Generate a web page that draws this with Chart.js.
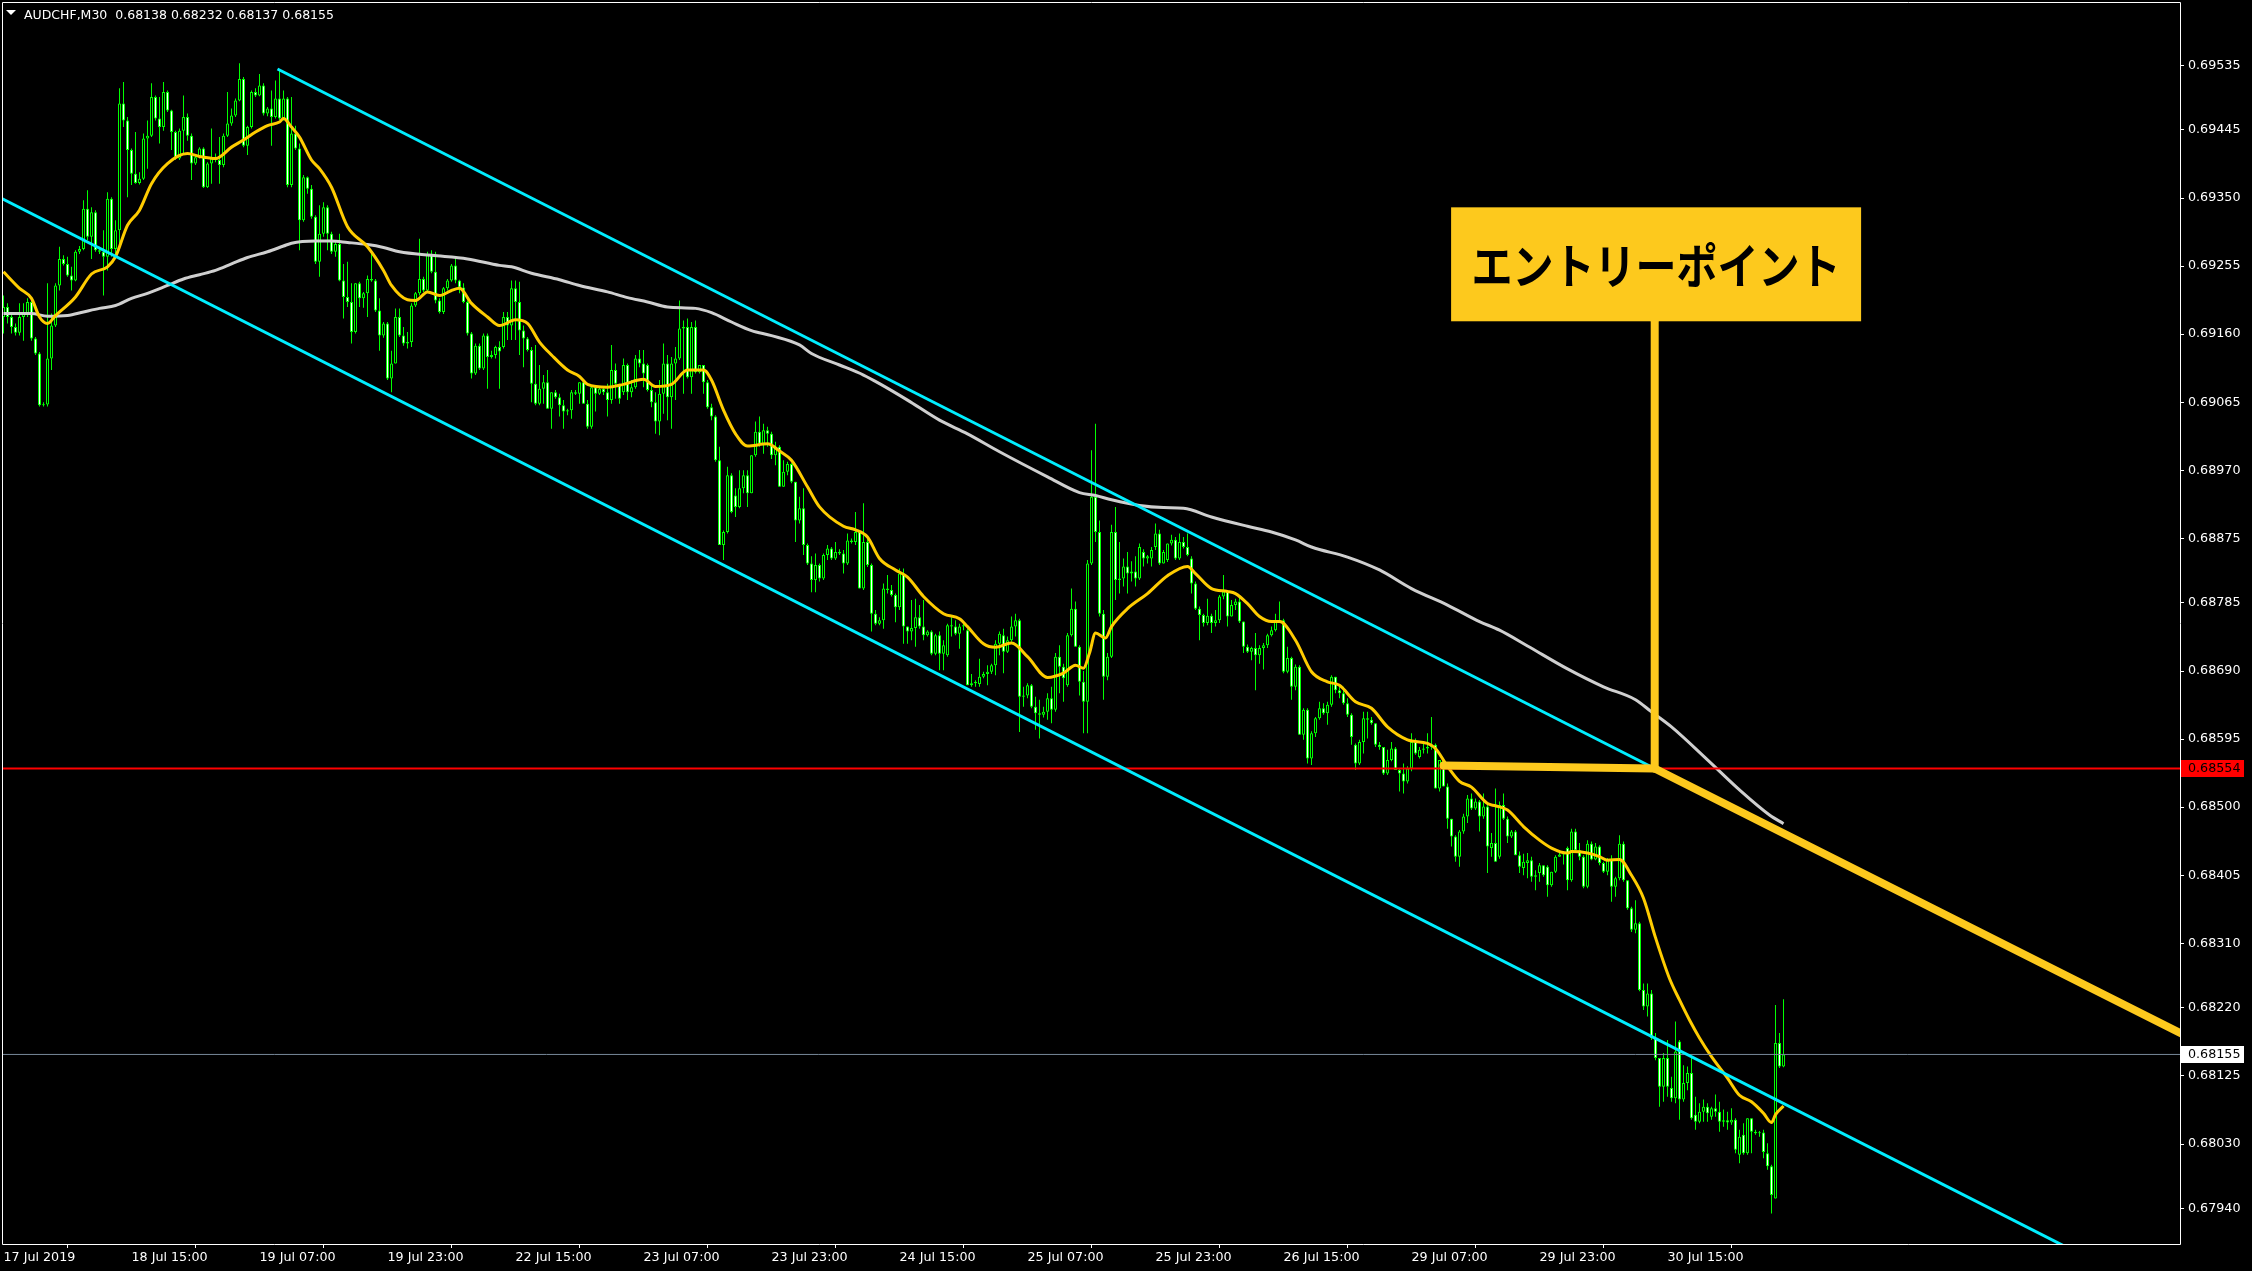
<!DOCTYPE html>
<html>
<head>
<meta charset="utf-8">
<title>AUDCHF,M30</title>
<script src="https://cdn.jsdelivr.net/npm/chart.js@4.4.1/dist/chart.umd.min.js"></script>
<style>
html,body{margin:0;padding:0;background:#000;overflow:hidden;}
#wrap{position:relative;width:2252px;height:1271px;}
canvas{display:block;}
</style>
</head>
<body>
<div id="wrap"><canvas id="chart" width="2252" height="1271"></canvas></div>
<script>
// ---------------- data ----------------
const symbolName = 'AUDCHF,M30';

const timeTickBars = [0, 32, 64, 96, 128, 160, 192, 224, 256, 288, 320, 352, 384, 416];
const timeTickLabels = ['17 Jul 2019', '18 Jul 15:00', '19 Jul 07:00', '19 Jul 23:00', '22 Jul 15:00',
  '23 Jul 07:00', '23 Jul 23:00', '24 Jul 15:00', '25 Jul 07:00', '25 Jul 23:00', '26 Jul 15:00',
  '29 Jul 07:00', '29 Jul 23:00', '30 Jul 15:00'];

const priceTicks = [0.69535, 0.69445, 0.69350, 0.69255, 0.69160, 0.69065, 0.68970, 0.68875, 0.68785,
  0.68690, 0.68595, 0.68500, 0.68405, 0.68310, 0.68220, 0.68125, 0.68030, 0.67940];

const opens = [
0.69184,0.69198,0.69184,0.69170,0.69162,0.69184,0.69189,0.69205,0.69154,0.69133,
0.69061,0.69062,0.69126,0.69172,0.69228,0.69265,0.69258,0.69242,0.69235,0.69275,
0.69279,0.69335,0.69296,0.69330,0.69277,0.69275,0.69268,0.69349,0.69279,0.69305,
0.69482,0.69458,0.69417,0.69384,0.69371,0.69377,0.69433,0.69437,0.69491,0.69461,
0.69449,0.69498,0.69472,0.69442,0.69405,0.69444,0.69463,0.69437,0.69398,0.69407,
0.69419,0.69365,0.69398,0.69405,0.69403,0.69396,0.69437,0.69454,0.69465,0.69486,
0.69516,0.69423,0.69449,0.69498,0.69493,0.69507,0.69468,0.69475,0.69463,0.69489,
0.69461,0.69489,0.69368,0.69440,0.69419,0.69319,0.69379,0.69363,0.69324,0.69261,
0.69300,0.69337,0.69300,0.69275,0.69286,0.69235,0.69212,0.69205,0.69163,0.69231,
0.69210,0.69217,0.69237,0.69235,0.69193,0.69158,0.69175,0.69098,0.69119,0.69184,
0.69158,0.69147,0.69149,0.69200,0.69217,0.69237,0.69221,0.69272,0.69247,0.69207,
0.69191,0.69224,0.69235,0.69256,0.69235,0.69225,0.69205,0.69161,0.69105,0.69144,
0.69112,0.69158,0.69128,0.69131,0.69142,0.69142,0.69184,0.69172,0.69224,0.69205,
0.69165,0.69154,0.69138,0.69091,0.69063,0.69084,0.69093,0.69056,0.69079,0.69072,
0.69061,0.69052,0.69054,0.69079,0.69077,0.69093,0.69063,0.69031,0.69086,0.69077,
0.69084,0.69079,0.69068,0.69110,0.69091,0.69079,0.69117,0.69079,0.69086,0.69126,
0.69119,0.69117,0.69082,0.69065,0.69038,0.69077,0.69119,0.69072,0.69119,0.69126,
0.69168,0.69170,0.69100,0.69170,0.69107,0.69117,0.69093,0.69058,0.69045,0.68984,
0.68866,0.68884,0.68963,0.68935,0.68919,0.68945,0.68963,0.68938,0.68991,0.69024,
0.69007,0.69026,0.69021,0.68991,0.69003,0.68947,0.68968,0.68979,0.68954,0.68900,
0.68917,0.68866,0.68840,0.68817,0.68838,0.68819,0.68852,0.68861,0.68847,0.68856,
0.68854,0.68840,0.68872,0.68870,0.68884,0.68805,0.68870,0.68838,0.68770,0.68756,
0.68761,0.68805,0.68803,0.68796,0.68779,0.68826,0.68752,0.68745,0.68750,0.68765,
0.68752,0.68740,0.68745,0.68714,0.68740,0.68714,0.68712,0.68754,0.68752,0.68742,
0.68752,0.68747,0.68670,0.68673,0.68672,0.68682,0.68686,0.68689,0.68698,0.68728,
0.68740,0.68717,0.68733,0.68752,0.68761,0.68654,0.68656,0.68670,0.68640,0.68631,
0.68629,0.68633,0.68652,0.68636,0.68710,0.68696,0.68670,0.68740,0.68777,0.68724,
0.68675,0.68647,0.68840,0.68933,0.68884,0.68770,0.68682,0.68710,0.68884,0.68817,
0.68819,0.68836,0.68826,0.68829,0.68819,0.68856,0.68847,0.68847,0.68863,0.68882,
0.68840,0.68845,0.68868,0.68873,0.68847,0.68870,0.68863,0.68847,0.68812,0.68777,
0.68768,0.68757,0.68767,0.68757,0.68761,0.68794,0.68801,0.68766,0.68782,0.68787,
0.68759,0.68724,0.68717,0.68722,0.68712,0.68722,0.68726,0.68740,0.68747,0.68759,
0.68761,0.68689,0.68708,0.68668,0.68696,0.68601,0.68636,0.68568,0.68603,0.68624,
0.68638,0.68631,0.68643,0.68682,0.68663,0.68659,0.68645,0.68629,0.68587,0.68561,
0.68591,0.68624,0.68622,0.68617,0.68587,0.68584,0.68547,0.68566,0.68582,0.68552,
0.68547,0.68536,0.68554,0.68591,0.68570,0.68580,0.68582,0.68584,0.68587,0.68526,
0.68566,0.68529,0.68484,0.68459,0.68431,0.68466,0.68487,0.68512,0.68498,0.68508,
0.68487,0.68501,0.68443,0.68450,0.68431,0.68503,0.68484,0.68459,0.68466,0.68433,
0.68415,0.68422,0.68426,0.68403,0.68408,0.68419,0.68417,0.68391,0.68410,0.68431,
0.68434,0.68443,0.68398,0.68466,0.68440,0.68431,0.68389,0.68449,0.68427,0.68445,
0.68422,0.68410,0.68427,0.68389,0.68401,0.68449,0.68398,0.68359,0.68329,0.68338,
0.68245,0.68222,0.68240,0.68178,0.68150,0.68110,0.68150,0.68108,0.68094,0.68173,
0.68092,0.68115,0.68129,0.68071,0.68061,0.68075,0.68082,0.68068,0.68080,0.68075,
0.68061,0.68063,0.68060,0.68064,0.68015,0.68043,0.68017,0.68066,0.68047,0.68045,
0.68046,0.68017,0.67999,0.67954,0.68171,0.68138];

const highs = [
0.69214,0.69203,0.69189,0.69175,0.69203,0.69203,0.69210,0.69207,0.69156,0.69135,
0.69065,0.69231,0.69189,0.69231,0.69282,0.69270,0.69268,0.69254,0.69277,0.69283,
0.69347,0.69361,0.69337,0.69333,0.69282,0.69305,0.69358,0.69351,0.69319,0.69503,
0.69512,0.69463,0.69419,0.69442,0.69386,0.69440,0.69458,0.69510,0.69493,0.69491,
0.69512,0.69500,0.69473,0.69444,0.69447,0.69493,0.69468,0.69440,0.69410,0.69421,
0.69421,0.69400,0.69447,0.69412,0.69435,0.69440,0.69498,0.69475,0.69489,0.69538,
0.69519,0.69451,0.69500,0.69503,0.69523,0.69510,0.69477,0.69500,0.69514,0.69528,
0.69500,0.69491,0.69491,0.69451,0.69426,0.69382,0.69380,0.69368,0.69326,0.69340,
0.69344,0.69340,0.69303,0.69289,0.69300,0.69258,0.69261,0.69231,0.69231,0.69233,
0.69219,0.69242,0.69277,0.69237,0.69210,0.69177,0.69177,0.69137,0.69196,0.69196,
0.69170,0.69163,0.69203,0.69219,0.69293,0.69240,0.69275,0.69277,0.69275,0.69210,
0.69226,0.69237,0.69258,0.69268,0.69236,0.69231,0.69207,0.69163,0.69147,0.69147,
0.69161,0.69161,0.69137,0.69144,0.69150,0.69191,0.69191,0.69235,0.69235,0.69233,
0.69172,0.69156,0.69142,0.69145,0.69117,0.69103,0.69110,0.69079,0.69082,0.69077,
0.69068,0.69056,0.69082,0.69082,0.69093,0.69096,0.69068,0.69089,0.69089,0.69086,
0.69086,0.69091,0.69145,0.69119,0.69091,0.69126,0.69119,0.69096,0.69131,0.69138,
0.69138,0.69119,0.69089,0.69079,0.69096,0.69147,0.69131,0.69128,0.69142,0.69207,
0.69179,0.69182,0.69177,0.69179,0.69117,0.69117,0.69096,0.69063,0.69047,0.69003,
0.68886,0.68975,0.68966,0.68945,0.68970,0.68970,0.68970,0.68991,0.69038,0.69045,
0.69035,0.69031,0.69024,0.69010,0.69005,0.68984,0.68982,0.68980,0.68954,0.68933,
0.68945,0.68868,0.68850,0.68854,0.68840,0.68854,0.68866,0.68863,0.68870,0.68860,
0.68859,0.68882,0.68875,0.68912,0.68886,0.68924,0.68877,0.68840,0.68775,0.68765,
0.68812,0.68824,0.68810,0.68798,0.68833,0.68833,0.68752,0.68789,0.68791,0.68782,
0.68789,0.68747,0.68747,0.68742,0.68745,0.68733,0.68756,0.68765,0.68761,0.68756,
0.68756,0.68749,0.68686,0.68677,0.68707,0.68689,0.68698,0.68700,0.68733,0.68745,
0.68749,0.68738,0.68766,0.68770,0.68763,0.68668,0.68673,0.68672,0.68654,0.68650,
0.68640,0.68659,0.68668,0.68715,0.68726,0.68700,0.68743,0.68805,0.68787,0.68726,
0.68690,0.68845,0.68998,0.69035,0.68900,0.68775,0.68715,0.68894,0.68919,0.68870,
0.68847,0.68856,0.68843,0.68850,0.68868,0.68860,0.68852,0.68863,0.68896,0.68887,
0.68859,0.68868,0.68880,0.68877,0.68882,0.68877,0.68882,0.68850,0.68815,0.68780,
0.68770,0.68791,0.68770,0.68775,0.68796,0.68824,0.68803,0.68789,0.68791,0.68794,
0.68759,0.68727,0.68724,0.68743,0.68726,0.68729,0.68742,0.68752,0.68770,0.68787,
0.68763,0.68724,0.68710,0.68699,0.68698,0.68638,0.68638,0.68606,0.68626,0.68647,
0.68645,0.68647,0.68684,0.68682,0.68668,0.68668,0.68652,0.68631,0.68589,0.68594,
0.68633,0.68633,0.68626,0.68617,0.68591,0.68584,0.68580,0.68591,0.68584,0.68554,
0.68561,0.68557,0.68603,0.68596,0.68584,0.68589,0.68603,0.68626,0.68589,0.68566,
0.68568,0.68533,0.68484,0.68461,0.68468,0.68491,0.68517,0.68519,0.68512,0.68510,
0.68519,0.68503,0.68464,0.68526,0.68508,0.68519,0.68487,0.68468,0.68468,0.68438,
0.68435,0.68436,0.68431,0.68412,0.68422,0.68419,0.68419,0.68410,0.68433,0.68438,
0.68438,0.68445,0.68470,0.68470,0.68450,0.68433,0.68454,0.68452,0.68450,0.68447,
0.68424,0.68429,0.68433,0.68403,0.68461,0.68452,0.68398,0.68361,0.68370,0.68340,
0.68254,0.68254,0.68245,0.68185,0.68150,0.68157,0.68175,0.68124,0.68201,0.68175,
0.68140,0.68138,0.68152,0.68096,0.68087,0.68092,0.68087,0.68082,0.68099,0.68089,
0.68078,0.68075,0.68080,0.68066,0.68050,0.68059,0.68066,0.68066,0.68050,0.68048,
0.68050,0.68031,0.68001,0.68224,0.68185,0.68232];

const lows = [
0.69161,0.69175,0.69161,0.69158,0.69158,0.69151,0.69184,0.69151,0.69131,0.69059,
0.69059,0.69059,0.69110,0.69170,0.69221,0.69256,0.69240,0.69221,0.69234,0.69272,
0.69277,0.69291,0.69265,0.69275,0.69272,0.69214,0.69249,0.69268,0.69268,0.69277,
0.69449,0.69351,0.69368,0.69370,0.69369,0.69375,0.69391,0.69435,0.69458,0.69426,
0.69444,0.69470,0.69417,0.69403,0.69403,0.69412,0.69430,0.69375,0.69396,0.69405,
0.69364,0.69364,0.69370,0.69400,0.69370,0.69393,0.69435,0.69451,0.69463,0.69485,
0.69421,0.69410,0.69447,0.69491,0.69492,0.69465,0.69464,0.69423,0.69461,0.69459,
0.69458,0.69365,0.69365,0.69417,0.69277,0.69317,0.69356,0.69321,0.69258,0.69240,
0.69296,0.69277,0.69272,0.69268,0.69234,0.69182,0.69198,0.69147,0.69161,0.69198,
0.69197,0.69184,0.69233,0.69191,0.69137,0.69155,0.69096,0.69079,0.69119,0.69156,
0.69144,0.69140,0.69142,0.69198,0.69214,0.69219,0.69220,0.69245,0.69203,0.69189,
0.69188,0.69221,0.69233,0.69231,0.69217,0.69203,0.69158,0.69098,0.69103,0.69110,
0.69110,0.69084,0.69126,0.69126,0.69084,0.69140,0.69152,0.69152,0.69152,0.69131,
0.69114,0.69136,0.69065,0.69061,0.69061,0.69063,0.69056,0.69028,0.69070,0.69045,
0.69028,0.69047,0.69042,0.69075,0.69063,0.69063,0.69028,0.69028,0.69052,0.69075,
0.69075,0.69045,0.69063,0.69070,0.69063,0.69075,0.69068,0.69072,0.69084,0.69114,
0.69086,0.69080,0.69058,0.69021,0.69019,0.69049,0.69040,0.69028,0.69068,0.69124,
0.69077,0.69098,0.69077,0.69105,0.69105,0.69077,0.69056,0.69040,0.68982,0.68866,
0.68845,0.68882,0.68910,0.68905,0.68917,0.68938,0.68919,0.68938,0.68989,0.69003,
0.68993,0.69003,0.68986,0.68977,0.68947,0.68947,0.68963,0.68952,0.68870,0.68896,
0.68852,0.68838,0.68800,0.68800,0.68815,0.68817,0.68845,0.68845,0.68845,0.68852,
0.68826,0.68838,0.68868,0.68866,0.68805,0.68803,0.68835,0.68745,0.68754,0.68754,
0.68749,0.68798,0.68794,0.68758,0.68775,0.68728,0.68728,0.68733,0.68724,0.68749,
0.68733,0.68738,0.68712,0.68712,0.68691,0.68691,0.68710,0.68738,0.68740,0.68721,
0.68747,0.68670,0.68668,0.68668,0.68668,0.68680,0.68670,0.68686,0.68684,0.68712,
0.68687,0.68715,0.68731,0.68738,0.68605,0.68640,0.68652,0.68638,0.68608,0.68596,
0.68625,0.68622,0.68617,0.68633,0.68659,0.68647,0.68668,0.68738,0.68724,0.68656,
0.68603,0.68603,0.68838,0.68870,0.68766,0.68650,0.68677,0.68708,0.68789,0.68798,
0.68808,0.68798,0.68815,0.68808,0.68817,0.68836,0.68840,0.68836,0.68859,0.68838,
0.68840,0.68842,0.68865,0.68845,0.68845,0.68861,0.68850,0.68798,0.68775,0.68733,
0.68752,0.68754,0.68743,0.68752,0.68757,0.68790,0.68752,0.68766,0.68775,0.68757,
0.68715,0.68715,0.68705,0.68663,0.68700,0.68692,0.68722,0.68738,0.68745,0.68757,
0.68687,0.68687,0.68650,0.68663,0.68601,0.68594,0.68561,0.68559,0.68598,0.68622,
0.68629,0.68615,0.68640,0.68659,0.68652,0.68643,0.68626,0.68587,0.68552,0.68559,
0.68575,0.68596,0.68615,0.68584,0.68580,0.68545,0.68545,0.68564,0.68552,0.68522,
0.68519,0.68533,0.68550,0.68573,0.68568,0.68575,0.68575,0.68580,0.68526,0.68522,
0.68529,0.68470,0.68445,0.68424,0.68417,0.68463,0.68478,0.68496,0.68496,0.68466,
0.68484,0.68408,0.68431,0.68424,0.68428,0.68482,0.68450,0.68457,0.68433,0.68408,
0.68405,0.68401,0.68396,0.68384,0.68396,0.68403,0.68375,0.68389,0.68408,0.68431,
0.68420,0.68384,0.68396,0.68436,0.68426,0.68387,0.68387,0.68426,0.68426,0.68419,
0.68408,0.68405,0.68368,0.68375,0.68398,0.68396,0.68357,0.68326,0.68324,0.68243,
0.68217,0.68208,0.68175,0.68147,0.68082,0.68089,0.68096,0.68089,0.68087,0.68064,
0.68089,0.68105,0.68064,0.68050,0.68059,0.68061,0.68061,0.68064,0.68068,0.68047,
0.68054,0.68050,0.68057,0.68017,0.68003,0.68015,0.68015,0.68017,0.68043,0.68040,
0.68010,0.67994,0.67933,0.67954,0.68136,0.68137];

const closes = [
0.69198,0.69184,0.69170,0.69162,0.69184,0.69189,0.69205,0.69154,0.69133,0.69061,
0.69062,0.69126,0.69172,0.69228,0.69265,0.69258,0.69242,0.69235,0.69275,0.69279,
0.69335,0.69296,0.69330,0.69277,0.69275,0.69268,0.69349,0.69279,0.69305,0.69482,
0.69458,0.69417,0.69384,0.69371,0.69377,0.69433,0.69437,0.69491,0.69461,0.69449,
0.69498,0.69472,0.69442,0.69405,0.69444,0.69463,0.69437,0.69398,0.69407,0.69419,
0.69365,0.69398,0.69405,0.69403,0.69396,0.69437,0.69454,0.69465,0.69486,0.69516,
0.69423,0.69449,0.69498,0.69493,0.69507,0.69468,0.69475,0.69463,0.69489,0.69461,
0.69489,0.69368,0.69440,0.69419,0.69319,0.69379,0.69363,0.69324,0.69261,0.69300,
0.69337,0.69300,0.69275,0.69286,0.69235,0.69212,0.69205,0.69163,0.69231,0.69210,
0.69217,0.69237,0.69235,0.69193,0.69158,0.69175,0.69098,0.69119,0.69184,0.69158,
0.69147,0.69149,0.69200,0.69217,0.69237,0.69221,0.69272,0.69247,0.69207,0.69191,
0.69224,0.69235,0.69256,0.69235,0.69225,0.69205,0.69161,0.69105,0.69144,0.69112,
0.69158,0.69128,0.69131,0.69142,0.69136,0.69184,0.69172,0.69224,0.69205,0.69165,
0.69154,0.69138,0.69091,0.69063,0.69084,0.69093,0.69056,0.69079,0.69072,0.69061,
0.69052,0.69054,0.69079,0.69077,0.69093,0.69063,0.69031,0.69086,0.69077,0.69084,
0.69079,0.69068,0.69110,0.69091,0.69070,0.69117,0.69079,0.69086,0.69126,0.69119,
0.69105,0.69082,0.69065,0.69038,0.69077,0.69119,0.69072,0.69119,0.69126,0.69168,
0.69170,0.69100,0.69170,0.69107,0.69117,0.69093,0.69058,0.69045,0.68984,0.68866,
0.68884,0.68963,0.68912,0.68919,0.68945,0.68963,0.68938,0.68991,0.69024,0.69007,
0.69026,0.69021,0.68991,0.69003,0.68947,0.68968,0.68979,0.68954,0.68900,0.68917,
0.68866,0.68840,0.68817,0.68838,0.68819,0.68852,0.68861,0.68847,0.68856,0.68854,
0.68840,0.68872,0.68870,0.68884,0.68805,0.68870,0.68838,0.68770,0.68756,0.68761,
0.68805,0.68803,0.68796,0.68779,0.68826,0.68752,0.68745,0.68750,0.68765,0.68752,
0.68740,0.68745,0.68714,0.68740,0.68714,0.68726,0.68754,0.68752,0.68742,0.68752,
0.68754,0.68670,0.68673,0.68675,0.68682,0.68686,0.68689,0.68698,0.68728,0.68742,
0.68717,0.68733,0.68752,0.68761,0.68654,0.68656,0.68670,0.68640,0.68631,0.68629,
0.68633,0.68652,0.68636,0.68710,0.68696,0.68680,0.68740,0.68777,0.68724,0.68675,
0.68647,0.68840,0.68933,0.68884,0.68770,0.68682,0.68710,0.68884,0.68817,0.68819,
0.68836,0.68826,0.68829,0.68819,0.68863,0.68847,0.68850,0.68859,0.68882,0.68840,
0.68856,0.68868,0.68873,0.68847,0.68870,0.68863,0.68852,0.68812,0.68777,0.68768,
0.68757,0.68767,0.68757,0.68761,0.68794,0.68801,0.68766,0.68782,0.68787,0.68759,
0.68724,0.68717,0.68722,0.68712,0.68722,0.68726,0.68740,0.68747,0.68759,0.68761,
0.68689,0.68708,0.68668,0.68696,0.68601,0.68636,0.68568,0.68603,0.68624,0.68638,
0.68631,0.68643,0.68682,0.68663,0.68659,0.68645,0.68629,0.68598,0.68561,0.68591,
0.68624,0.68622,0.68617,0.68587,0.68584,0.68547,0.68566,0.68582,0.68552,0.68547,
0.68536,0.68554,0.68591,0.68575,0.68580,0.68582,0.68584,0.68587,0.68526,0.68566,
0.68529,0.68484,0.68459,0.68431,0.68466,0.68487,0.68512,0.68498,0.68508,0.68487,
0.68501,0.68445,0.68450,0.68424,0.68503,0.68484,0.68459,0.68466,0.68433,0.68417,
0.68424,0.68426,0.68403,0.68405,0.68419,0.68405,0.68391,0.68410,0.68431,0.68434,
0.68436,0.68398,0.68466,0.68440,0.68431,0.68389,0.68449,0.68427,0.68445,0.68422,
0.68410,0.68427,0.68389,0.68401,0.68449,0.68398,0.68359,0.68329,0.68338,0.68245,
0.68222,0.68240,0.68178,0.68150,0.68110,0.68150,0.68110,0.68094,0.68159,0.68092,
0.68115,0.68129,0.68066,0.68061,0.68075,0.68082,0.68073,0.68080,0.68075,0.68061,
0.68063,0.68060,0.68064,0.68022,0.68040,0.68017,0.68066,0.68047,0.68045,0.68046,
0.68019,0.67999,0.67959,0.68171,0.68138,0.68155];

// moving averages (bar index -> value)
const fastMaBars = [0,4,7,9,11,13,18,22,26,28,31,34,37,41,46,49,53,57,60,63,66,69,70,72,74,77,79,82,86,91,95,97,101,103,106,109,112,114,117,121,124,128,131,134,137,141,144,146,151,155,160,163,167,171,175,177,180,183,186,191,194,197,201,204,210,213,216,219,223,226,230,235,239,241,245,248,252,256,261,265,268,270,271.5,273,275.5,277,281,286,291,296,298,302,306,308,311,314,317,319,323,327,331,334,338,342,346,351,356,358,361,364,367,371,373,376,380,384,387,391,392,396,399,401,404,407,410,413,416.5,419,421.5,424,427,431,434,437,440,442,443,445];
const fastMaValues = [0.69247,0.69224,0.69210,0.69184,0.69175,0.69186,0.69212,0.69244,0.69254,0.69268,0.69312,0.69333,0.69370,0.69398,0.69412,0.69408,0.69405,0.69421,0.69431,0.69442,0.69451,0.69456,0.69461,0.69449,0.69435,0.69403,0.69391,0.69365,0.69310,0.69282,0.69249,0.69228,0.69208,0.69207,0.69219,0.69214,0.69221,0.69224,0.69203,0.69184,0.69172,0.69180,0.69175,0.69149,0.69131,0.69110,0.69101,0.69090,0.69086,0.69090,0.69097,0.69087,0.69090,0.69110,0.69110,0.69096,0.69054,0.69021,0.69004,0.69007,0.68997,0.68984,0.68947,0.68919,0.68892,0.68887,0.68877,0.68847,0.68831,0.68821,0.68794,0.68770,0.68763,0.68752,0.68728,0.68723,0.68729,0.68710,0.68681,0.68687,0.68698,0.68694,0.68715,0.68743,0.68736,0.68752,0.68777,0.68798,0.68823,0.68836,0.68826,0.68805,0.68801,0.68798,0.68784,0.68766,0.68759,0.68759,0.68733,0.68689,0.68675,0.68670,0.68647,0.68638,0.68612,0.68594,0.68589,0.68582,0.68557,0.68536,0.68528,0.68505,0.68502,0.68496,0.68473,0.68454,0.68443,0.68436,0.68438,0.68436,0.68431,0.68426,0.68427,0.68405,0.68373,0.68318,0.68261,0.68231,0.68203,0.68178,0.68152,0.68122,0.68098,0.68089,0.68073,0.68060,0.68071,0.68083];

const slowMaBars = [0,7,11,16,20,24,28,32,36,41,45,49,53,57,61,66,70,72,78,82,86,91,95,99,107,116,124,127,132,139,144,151,156,161,166,173,177,182,187,192,199,202,209,215,219,226,234,241,249,261,269,273,277,284,290,295,302,311,317,323,327,336,344,352,361,369,374,381,391,400,408,412,417,426,434,441.5,445];
const slowMaValues = [0.69189,0.69189,0.69185,0.69186,0.69191,0.69196,0.69200,0.69210,0.69217,0.69228,0.69237,0.69243,0.69249,0.69258,0.69267,0.69275,0.69283,0.69287,0.69290,0.69290,0.69288,0.69285,0.69281,0.69275,0.69270,0.69265,0.69256,0.69254,0.69245,0.69236,0.69228,0.69219,0.69211,0.69205,0.69198,0.69196,0.69190,0.69177,0.69165,0.69158,0.69145,0.69133,0.69117,0.69103,0.69091,0.69068,0.69040,0.69021,0.68996,0.68961,0.68939,0.68935,0.68929,0.68921,0.68918,0.68917,0.68905,0.68892,0.68884,0.68873,0.68863,0.68849,0.68831,0.68805,0.68782,0.68759,0.68747,0.68725,0.68693,0.68668,0.68650,0.68633,0.68612,0.68566,0.68524,0.68489,0.68477];

// hand-drawn objects (bar index / price)
const channelUpperBars = [68.5, 412.8];
const channelUpperPrices = [0.69530, 0.68554];
const channelLowerBars = [-1, 520];
const channelLowerPrices = [0.69351, 0.67874];
const supportLevel = 0.68554;
const entryLevelBars = [360, 412.8];
const entryLevelPrices = [0.68558, 0.68554];
const entryPointerBars = [412.8, 412.8];
const entryPointerPrices = [0.68554, 0.69178];
const breakoutBars = [412.8, 547];
const breakoutPrices = [0.68554, 0.68177];
const entryBoxBars = [361.9, 464.4];
const entryBoxPrices = [0.69337, 0.69178];
const entryText = 'エントリーポイント';

// ---------------- view / style ----------------
const viewBars = [-0.375, 544.125];
const viewPrices = [0.678905, 0.696235];
const CANDLE = '#00ff00';
const ACCENT = '#fdc91d';
const AXIS_FONT = '"DejaVu Sans", Verdana, sans-serif';

const pts = (xs, ys) => xs.map((x, k) => ({x: x, y: ys[k]}));
const lastBar = closes.length - 1;
const bidPrice = closes[lastBar];

const wickData = closes.map((c, i) => ({x: i, y: [lows[i], highs[i]]}));
const bodyData = closes.map((c, i) => ({x: i, y: [opens[i], c]}));
const bodyFill = closes.map((c, i) => (c >= opens[i] ? '#000000' : '#ffffff'));

const lineBase = {type: 'line', pointRadius: 0, pointHoverRadius: 0, fill: false, clip: 0, tension: 0};

const datasets = [
  Object.assign({}, lineBase, {label: 'breakout', data: pts(breakoutBars, breakoutPrices), borderColor: ACCENT, borderWidth: 8, borderCapStyle: 'round', order: 0}),
  Object.assign({}, lineBase, {label: 'entry level', data: pts(entryLevelBars, entryLevelPrices), borderColor: ACCENT, borderWidth: 8, borderCapStyle: 'round', order: 0}),
  Object.assign({}, lineBase, {label: 'entry pointer', data: pts(entryPointerBars, entryPointerPrices), borderColor: ACCENT, borderWidth: 8, borderCapStyle: 'round', order: 0}),
  Object.assign({}, lineBase, {label: 'channel upper', data: pts(channelUpperBars, channelUpperPrices), borderColor: '#00eeff', borderWidth: 3, order: 1}),
  Object.assign({}, lineBase, {label: 'channel lower', data: pts(channelLowerBars, channelLowerPrices), borderColor: '#00eeff', borderWidth: 3, order: 1}),
  Object.assign({}, lineBase, {label: 'support', data: pts(viewBars, [supportLevel, supportLevel]), borderColor: '#ff0000', borderWidth: 2, order: 2}),
  Object.assign({}, lineBase, {label: 'bid', data: pts(viewBars, [bidPrice, bidPrice]), borderColor: '#778899', borderWidth: 1, order: 2}),
  Object.assign({}, lineBase, {label: 'fast MA', data: pts(fastMaBars, fastMaValues), borderColor: '#ffcc00', borderWidth: 3, cubicInterpolationMode: 'monotone', order: 3}),
  Object.assign({}, lineBase, {label: 'slow MA', data: pts(slowMaBars, slowMaValues), borderColor: '#cfcfcf', borderWidth: 3, cubicInterpolationMode: 'monotone', order: 4}),
  {type: 'bar', label: 'bodies', data: bodyData, backgroundColor: bodyFill, borderColor: CANDLE, borderWidth: 1,
   borderSkipped: false, barThickness: 3, minBarLength: 1, grouped: false, inflateAmount: 0, order: 5},
  {type: 'bar', label: 'wicks', data: wickData, backgroundColor: CANDLE, borderWidth: 0,
   barThickness: 1, minBarLength: 1, grouped: false, inflateAmount: 0, order: 6}
];

const decor = {
  id: 'decor',
  beforeDraw(chart) {
    const c = chart.ctx;
    c.save(); c.fillStyle = '#000'; c.fillRect(0, 0, chart.width, chart.height); c.restore();
  },
  afterDatasetsDraw(chart) {
    const c = chart.ctx, xs = chart.scales.x, ys = chart.scales.y;
    const l = xs.getPixelForValue(entryBoxBars[0]), r = xs.getPixelForValue(entryBoxBars[1]);
    const t = ys.getPixelForValue(entryBoxPrices[0]), b = ys.getPixelForValue(entryBoxPrices[1]);
    c.save();
    c.fillStyle = ACCENT;
    c.fillRect(l, t, r - l, b - t);
    c.font = 'bold 48px "Noto Sans CJK JP", sans-serif';
    const w = c.measureText(entryText).width;
    const sx = ((r - l) * 0.9) / w;
    c.translate((l + r) / 2, (t + b) / 2 + 1);
    c.scale(sx, 1);
    c.fillStyle = '#000';
    c.textAlign = 'center';
    c.textBaseline = 'middle';
    c.fillText(entryText, 0, 0);
    c.restore();
  },
  afterDraw(chart) {
    const c = chart.ctx, a = chart.chartArea, ys = chart.scales.y;
    c.save();
    // frame
    c.strokeStyle = '#ffffff'; c.lineWidth = 1;
    c.beginPath();
    c.moveTo(a.left + 0.5, a.top + 0.5); c.lineTo(a.right + 0.5, a.top + 0.5);
    c.lineTo(a.right + 0.5, a.bottom + 0.5); c.lineTo(a.left + 0.5, a.bottom + 0.5);
    c.closePath(); c.stroke();
    // price tags on the axis
    const tag = (price, bg) => {
      const y = Math.round(ys.getPixelForValue(price));
      c.fillStyle = bg; c.fillRect(a.right + 1, y - 8, 63, 17);
      c.fillStyle = '#000'; c.font = '12.7px ' + AXIS_FONT;
      c.textAlign = 'left'; c.textBaseline = 'middle';
      c.fillText(price.toFixed(5), a.right + 8, y + 0.5);
    };
    tag(supportLevel, '#ff0000');
    tag(bidPrice, '#ffffff');
    // header
    c.fillStyle = '#ffffff';
    c.beginPath(); c.moveTo(6, 10); c.lineTo(16, 10); c.lineTo(11, 15); c.closePath(); c.fill();
    c.font = '12.5px ' + AXIS_FONT; c.textAlign = 'left'; c.textBaseline = 'alphabetic';
    const header = symbolName + '  ' + [opens[lastBar], highs[lastBar], lows[lastBar], closes[lastBar]].map(v => v.toFixed(5)).join(' ');
    c.fillText(header, 24, 18.5);
    c.restore();
  }
};

new Chart(document.getElementById('chart'), {
  data: {datasets: datasets},
  options: {
    responsive: false,
    animation: false,
    devicePixelRatio: 1,
    events: [],
    layout: {padding: {left: 2, top: 2, right: 0, bottom: 0}},
    plugins: {legend: {display: false}, tooltip: {enabled: false}},
    scales: {
      x: {
        type: 'linear', position: 'bottom', min: viewBars[0], max: viewBars[1], offset: false,
        afterBuildTicks: s => { s.ticks = timeTickBars.map(v => ({value: v})); },
        afterFit: s => { s.height = 27; s.paddingLeft = 0; s.paddingRight = 0; },
        ticks: {autoSkip: false, maxRotation: 0, minRotation: 0, align: 'start', padding: 2, color: '#ffffff',
          font: {family: AXIS_FONT, size: 12.7}, callback: (v, i) => timeTickLabels[i]},
        grid: {drawOnChartArea: false, drawTicks: true, tickLength: 4, color: '#ffffff'},
        border: {display: false}
      },
      y: {
        type: 'linear', position: 'right', min: viewPrices[0], max: viewPrices[1],
        afterBuildTicks: s => { s.ticks = priceTicks.map(v => ({value: v})); },
        afterFit: s => { s.width = 72; s.paddingTop = 0; s.paddingBottom = 0; },
        ticks: {autoSkip: false, padding: 4, color: '#ffffff', font: {family: AXIS_FONT, size: 12.7},
          callback: v => v.toFixed(5)},
        grid: {drawOnChartArea: false, drawTicks: true, tickLength: 4, color: '#ffffff'},
        border: {display: false}
      }
    }
  },
  plugins: [decor]
});
</script>
</body>
</html>
